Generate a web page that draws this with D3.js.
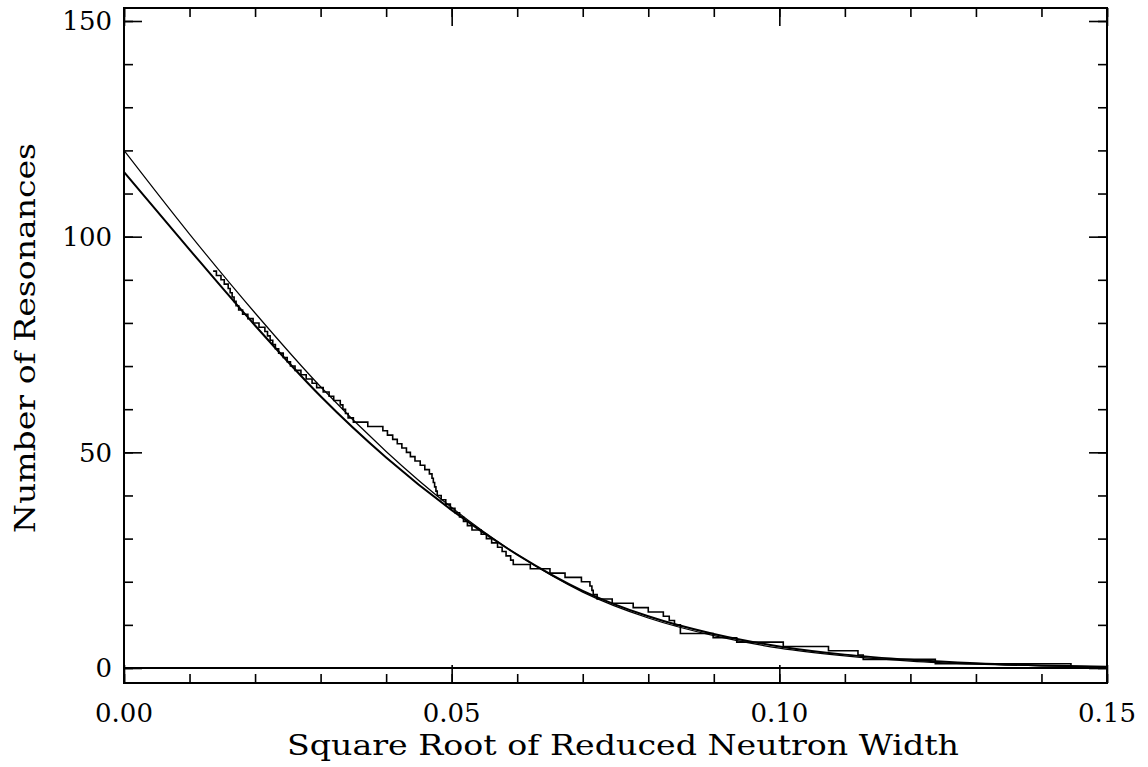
<!DOCTYPE html>
<html>
<head>
<meta charset="utf-8">
<script src="https://cdn.jsdelivr.net/npm/d3@7"></script>
<style>
  html, body { margin: 0; padding: 0; background: #fff; }
  svg { display: block; }
  text { font-family: "DejaVu Serif", "Liberation Serif", serif; fill: #000; }
</style>
</head>
<body>
<svg id="chart" width="1148" height="767"></svg>
<script>
// Cumulative number of resonances above a given square-root reduced neutron width.
// Staircase: x where the count drops to the given value.
const stepX = [
  0.0136, 0.0141, 0.0148, 0.0153, 0.0159, 0.0162, 0.0165, 0.0168, 0.0171, 0.0175,
  0.0181, 0.0189, 0.0197, 0.0206, 0.0215, 0.0219, 0.0223, 0.0227, 0.0231, 0.0236,
  0.0243, 0.0249, 0.0254, 0.0261, 0.0270, 0.0278, 0.0287, 0.0294, 0.0304, 0.0313,
  0.0320, 0.0330, 0.0334, 0.0338, 0.0342, 0.0350, 0.0372, 0.0395, 0.0402, 0.0410,
  0.0417, 0.0424, 0.0431, 0.0437, 0.0444, 0.0452, 0.0459, 0.0466, 0.0470, 0.0472,
  0.0474, 0.0476, 0.0478, 0.0484, 0.0491, 0.0498, 0.0505, 0.0512, 0.0518, 0.0524,
  0.0531, 0.0545, 0.0553, 0.0561, 0.0570, 0.0577, 0.0583, 0.0590, 0.0594, 0.0620,
  0.0650, 0.0673, 0.0698, 0.0711, 0.0714, 0.0716, 0.0722, 0.0745, 0.0777, 0.0800,
  0.0823, 0.0832, 0.0840, 0.0849, 0.0899, 0.0935, 0.1006, 0.1075, 0.1120, 0.1128,
  0.1238, 0.1445, 0.1500
];
const stepCount = [
  92, 91, 90, 89, 88, 87, 86, 85, 84, 83,
  82, 81, 80, 79, 78, 77, 76, 75, 74, 73,
  72, 71, 70, 69, 68, 67, 66, 65, 64, 63,
  62, 61, 60, 59, 58, 57, 56, 55, 54, 53,
  52, 51, 50, 49, 48, 47, 46, 45, 44, 43,
  42, 41, 40, 39, 38, 37, 36, 35, 34, 33,
  32, 31, 30, 29, 28, 27, 26, 25, 24, 23,
  22, 21, 20, 19, 18, 17, 16, 15, 14, 13,
  12, 11, 10, 8, 7, 6, 5, 4, 3, 2,
  1, 0, 0
];

// Two fitted integral distributions
const fitX = [0.00, 0.01, 0.02, 0.03, 0.04, 0.05, 0.06, 0.07, 0.08, 0.09, 0.10, 0.11, 0.12, 0.13, 0.14, 0.15];
const fitA = [120, 100.6, 82.3, 65.2, 50.2, 37.2, 26.3, 17.6, 11.6, 7.5, 4.6, 2.8, 1.6, 0.9, 0.5, 0.25];
const fitB = [115, 97.0, 79.4, 63.0, 48.8, 36.6, 26.3, 17.9, 12.0, 7.9, 5.0, 3.1, 1.9, 1.1, 0.6, 0.3];

const xMajorTicks = [0.00, 0.05, 0.10, 0.15];
const xTickLabels = ["0.00", "0.05", "0.10", "0.15"];
const yMajorTicks = [0, 50, 100, 150];
const yTickLabels = ["0", "50", "100", "150"];
const xTitle = "Square Root of Reduced Neutron Width";
const yTitle = "Number of Resonances";

const svg = d3.select("#chart");
const plotLeft = 124, plotRight = 1107, plotTop = 8, plotBottom = 683;

const x = d3.scaleLinear().domain([0, 0.15]).range([plotLeft, plotRight]);
const y = d3.scaleLinear().domain([0, 150]).range([668, 21]);

const xMinor = d3.range(0, 16).map(i => i / 100);
const yMinor = d3.range(0, 16).map(i => i * 10);

function tickAxis(axis, transform) {
  const g = svg.append("g").attr("transform", transform).call(axis);
  g.select(".domain").remove();
  g.selectAll(".tick line").attr("stroke", "#000").attr("stroke-width", 1.6);
  g.selectAll(".tick text").remove();
  return g;
}

// minor ticks on all four sides (inward)
tickAxis(d3.axisBottom(x).tickValues(xMinor).tickSize(-9), `translate(0,${plotBottom})`);
tickAxis(d3.axisTop(x).tickValues(xMinor).tickSize(-9), `translate(0,${plotTop})`);
tickAxis(d3.axisLeft(y).tickValues(yMinor).tickSize(-9), `translate(${plotLeft},0)`);
tickAxis(d3.axisRight(y).tickValues(yMinor).tickSize(-9), `translate(${plotRight},0)`);
// major ticks
tickAxis(d3.axisBottom(x).tickValues(xMajorTicks).tickSize(-18), `translate(0,${plotBottom})`);
tickAxis(d3.axisTop(x).tickValues(xMajorTicks).tickSize(-18), `translate(0,${plotTop})`);
tickAxis(d3.axisLeft(y).tickValues(yMajorTicks).tickSize(-18), `translate(${plotLeft},0)`);
tickAxis(d3.axisRight(y).tickValues(yMajorTicks).tickSize(-18), `translate(${plotRight},0)`);

// frame
svg.append("rect")
  .attr("x", plotLeft).attr("y", plotTop)
  .attr("width", plotRight - plotLeft).attr("height", plotBottom - plotTop)
  .attr("fill", "none").attr("stroke", "#000").attr("stroke-width", 2);

// zero line
svg.append("line")
  .attr("x1", plotLeft).attr("x2", plotRight)
  .attr("y1", y(0)).attr("y2", y(0))
  .attr("stroke", "#000").attr("stroke-width", 1.8);

// tick labels
svg.append("g").selectAll("text").data(xMajorTicks).join("text")
  .attr("x", d => x(d)).attr("y", 722)
  .attr("text-anchor", "middle")
  .attr("font-size", 26)
  .text((d, i) => xTickLabels[i]);

svg.append("g").selectAll("text").data(yMajorTicks).join("text")
  .attr("x", 112).attr("y", d => y(d))
  .attr("dy", "0.36em")
  .attr("text-anchor", "end")
  .attr("font-size", 26)
  .text((d, i) => yTickLabels[i]);

// axis titles
svg.append("text")
  .attr("x", 623).attr("y", 755)
  .attr("text-anchor", "middle")
  .attr("font-size", 28)
  .attr("textLength", 672).attr("lengthAdjust", "spacingAndGlyphs")
  .text(xTitle);

svg.append("text")
  .attr("transform", "translate(35,338) rotate(-90)")
  .attr("text-anchor", "middle")
  .attr("font-size", 28)
  .attr("textLength", 390).attr("lengthAdjust", "spacingAndGlyphs")
  .text(yTitle);

// curves
const fitLine = arr => d3.line()
  .x((d, i) => x(fitX[i]))
  .y((d, i) => y(arr[i]))
  .curve(d3.curveMonotoneX)(arr);

svg.append("path").attr("d", fitLine(fitA))
  .attr("fill", "none").attr("stroke", "#000").attr("stroke-width", 1.2);
svg.append("path").attr("d", fitLine(fitB))
  .attr("fill", "none").attr("stroke", "#000").attr("stroke-width", 2);

// staircase of observed counts
const stair = d3.line()
  .x((d, i) => x(stepX[i]))
  .y((d, i) => y(stepCount[i]))
  .curve(d3.curveStepAfter);
svg.append("path").attr("d", stair(stepX))
  .attr("fill", "none").attr("stroke", "#000").attr("stroke-width", 1.6);
</script>
</body>
</html>
